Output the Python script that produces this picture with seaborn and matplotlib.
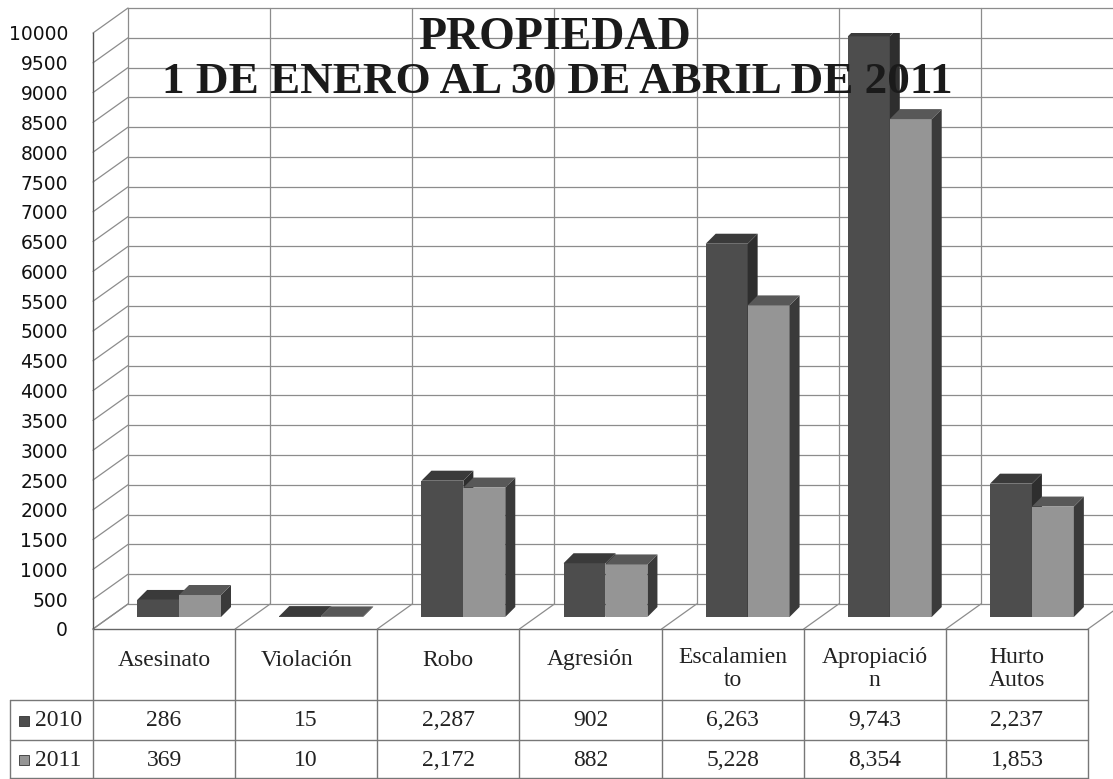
import numpy as np
import pandas as pd
import matplotlib
matplotlib.use("Agg")
import matplotlib.pyplot as plt
import seaborn as sns
from matplotlib.patches import Polygon, Rectangle
from matplotlib.lines import Line2D

# data
categories = ["Asesinato", "Violación", "Robo", "Agresión",
              "Escalamiento", "Apropiación", "Hurto Autos"]
table_labels = ["Asesinato", "Violación", "Robo", "Agresión",
                "Escalamien\nto", "Apropiació\nn", "Hurto\nAutos"]
years = ["2010", "2011"]
vals_2010 = [286, 15, 2287, 902, 6263, 9743, 2237]
vals_2011 = [369, 10, 2172, 882, 5228, 8354, 1853]
yticks = list(range(0, 10001, 500))

df = pd.DataFrame({
    "categoria": categories * 2,
    "anio": ["2010"] * len(categories) + ["2011"] * len(categories),
    "valor": vals_2010 + vals_2011,
})

# figure geometry (pixels)
W, H = 1113, 779
AX_L, AX_R, AX_TOP, AX_BOT = 93, 1088, 33, 629
front_col = {"2010": "#4d4d4d", "2011": "#959595"}
side_col = {"2010": "#2e2e2e", "2011": "#3a3a3a"}
top_col = {"2010": "#3a3a3a", "2011": "#585858"}
grid_col = "#8c8c8c"

sns.set_style("white")

fig = plt.figure(figsize=(W / 100, H / 100), dpi=100)
ax = fig.add_axes([AX_L / W, 1 - AX_BOT / H, (AX_R - AX_L) / W, (AX_BOT - AX_TOP) / H])

n = len(categories)
px_x = n / (AX_R - AX_L)
px_y = 10000 / (AX_BOT - AX_TOP)
wall_dx, wall_dy = 35 * px_x, 25 * px_y
shift_x, shift_y = 15 * px_x, 12 * px_y
depth_x, depth_y = 10 * px_x, 10 * px_y

sns.barplot(data=df, x="categoria", y="valor", hue="anio", order=categories,
            hue_order=years, palette=front_col, width=0.59, legend=False,
            saturation=1, ax=ax, zorder=3)

# fake 3d: lift bars to mid depth and add side / top faces
for i, yr in enumerate(years):
    bars = ax.containers[i]
    for p in bars:
        p.set_x(p.get_x() + shift_x)
        p.set_y(shift_y)
        p.set_zorder(3 + 2 * i)
        p.set_edgecolor("none")
        x0, x1 = p.get_x(), p.get_x() + p.get_width()
        y0, y1 = shift_y, shift_y + p.get_height()
        side = Polygon([(x1, y0), (x1 + depth_x, y0 + depth_y),
                        (x1 + depth_x, y1 + depth_y), (x1, y1)],
                       closed=True, fc=side_col[yr], ec="none", zorder=4 + 2 * i)
        top = Polygon([(x0, y1), (x0 + depth_x, y1 + depth_y),
                       (x1 + depth_x, y1 + depth_y), (x1, y1)],
                      closed=True, fc=top_col[yr], ec="none", zorder=4 + 2 * i)
        ax.add_patch(side)
        ax.add_patch(top)

ax.set_xlim(-0.5, n - 0.5)
ax.set_ylim(0, 10000)
ax.set_yticks(yticks)
ax.set_yticklabels([str(t) for t in yticks], fontsize=13.5, color="#111111",
                   family="DejaVu Sans")
ax.tick_params(axis="y", length=0, pad=18)
ax.set_xticks([])
ax.set_xlabel("")
ax.set_ylabel("")
for s in ["top", "right", "bottom"]:
    ax.spines[s].set_visible(False)
ax.spines["left"].set_color("#555555")
ax.spines["left"].set_linewidth(1.0)

# walls and floor
gkw = dict(color=grid_col, lw=0.9, clip_on=False, zorder=1)
bounds = np.arange(-0.5, n, 1.0)
for v in yticks:
    ax.plot([-0.5 + wall_dx, n - 0.5 + wall_dx + 1], [v + wall_dy] * 2, **gkw)
    ax.plot([-0.5, -0.5 + wall_dx], [v, v + wall_dy], **gkw)
for b in bounds:
    ax.plot([b + wall_dx] * 2, [wall_dy, 10000 + wall_dy], **gkw)
    ax.plot([b, b + wall_dx], [0, wall_dy], **gkw)
ax.plot([-0.5, n - 0.5], [0, 0], color="#666666", lw=1.0, clip_on=False, zorder=2)


def fx(x):
    return x / W


def fy(y):
    return 1 - y / H


def line(x0, y0, x1, y1, color="#777777"):
    fig.add_artist(Line2D([fx(x0), fx(x1)], [fy(y0), fy(y1)],
                          transform=fig.transFigure, color=color, lw=1.0))


# title
fig.text(fx(555), fy(38), "PROPIEDAD", ha="center", va="center", fontsize=33,
         fontweight="bold", family="Liberation Serif", color="#1a1a1a")
fig.text(fx(557), fy(82), "1 DE ENERO AL 30 DE ABRIL DE 2011", ha="center",
         va="center", fontsize=32.5, fontweight="bold", family="Liberation Serif",
         color="#1a1a1a")

# data table
col_w = (AX_R - AX_L) / n
row_y = [700, 740, 778]
for i in range(n + 1):
    line(AX_L + i * col_w, AX_BOT, AX_L + i * col_w, H)
line(10, 700, 10, H)
for y in row_y:
    line(10, y, AX_R, y)

tkw = dict(ha="center", va="center", fontsize=17, family="Liberation Serif",
           color="#222222")
for i, lab in enumerate(table_labels):
    cx = AX_L + (i + 0.5) * col_w
    cy = 669 if "\n" in lab else 660
    fig.text(fx(cx), fy(cy), lab, linespacing=1.1, **tkw)
    fig.text(fx(cx), fy(721), f"{vals_2010[i]:,}", **tkw)
    fig.text(fx(cx), fy(760), f"{vals_2011[i]:,}", **tkw)

for yr, cy in zip(years, [721, 760]):
    fig.add_artist(Rectangle((fx(19), fy(cy + 5)), 10 / W, 10 / H,
                             transform=fig.transFigure, fc=front_col[yr],
                             ec="#333333", lw=0.6))
    fig.text(fx(35), fy(cy), yr, ha="left", va="center", fontsize=17,
             family="Liberation Serif", color="#222222")

fig.savefig("out.png", dpi=100)
